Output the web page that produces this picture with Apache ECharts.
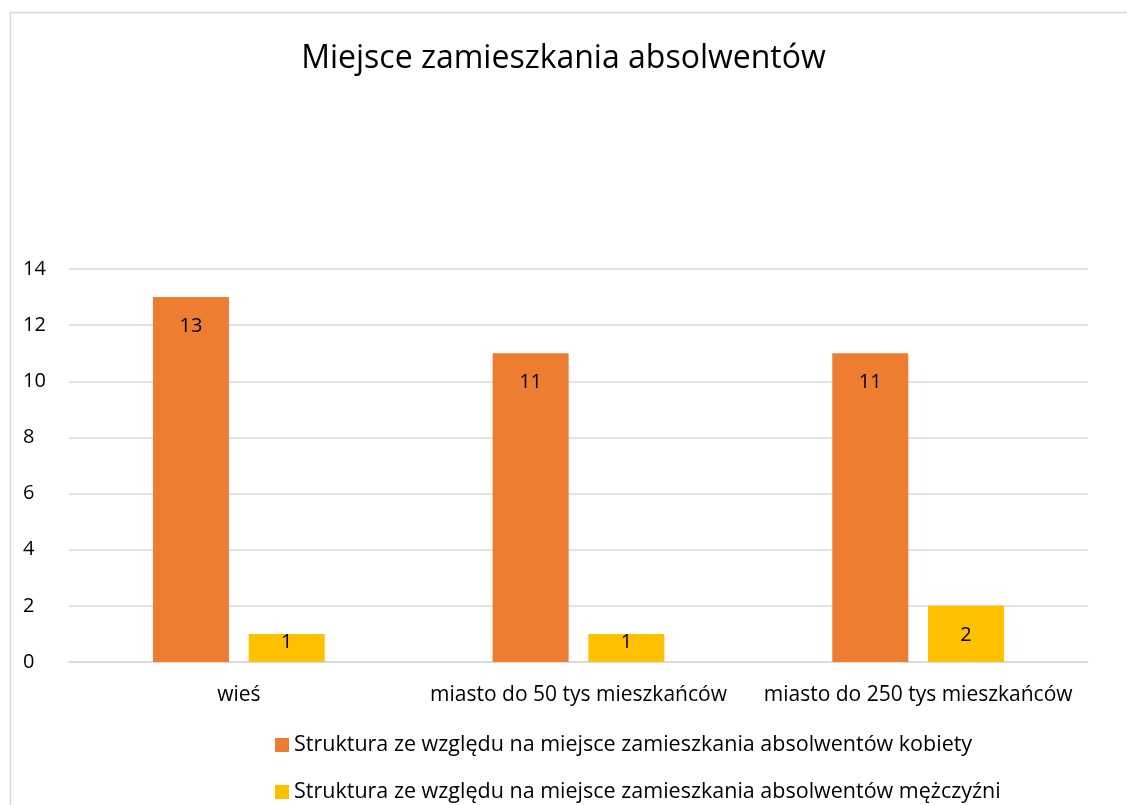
<!DOCTYPE html>
<html>
<head>
<meta charset="utf-8">
<script src="https://cdn.jsdelivr.net/npm/echarts@6/dist/echarts.min.js"></script>
<style>
html, body { margin: 0; padding: 0; background: #fff; }
#chart { width: 1127px; height: 805px; }
</style>
</head>
<body>
<div id="chart"></div>
<script>
// kategorie i wartości
const categories = ['wieś', 'miasto do 50 tys mieszkańców', 'miasto do 250 tys mieszkańców']
const kobiety = [13, 11, 11]
const mezczyzni = [1, 1, 2]
const seriesNames = [
    'Struktura ze względu na miejsce zamieszkania absolwentów kobiety',
    'Struktura ze względu na miejsce zamieszkania absolwentów mężczyźni'
]

const font = 'Open Sans, Noto Sans, sans-serif'
const legendBase = {
    orient: 'vertical',
    left: 270,
    itemWidth: 14,
    itemHeight: 14,
    itemGap: 6,
    icon: 'rect',
    textStyle: { fontSize: 21.5, color: '#000', fontFamily: font }
}
// niskie słupki: etykieta przy górnej krawędzi (jak w Excelu)
const barData = (arr) => arr.map(v => v < 2
    ? { value: v, label: { position: 'inside', offset: [0, -6] } }
    : v)
const barLabel = { show: true, position: 'insideTop', distance: 19, fontSize: 20, color: '#000', fontFamily: font }

let Mycharts = echarts.init(document.getElementById('chart'))
let option = {
    textStyle: { fontFamily: font },
    title: {
        text: 'Miejsce zamieszkania absolwentów',
        left: 'center',
        top: 38,
        textStyle: { fontSize: 32, fontWeight: 'normal', color: '#000', fontFamily: font }
    },
    graphic: [{
        type: 'rect',
        shape: { x: 10.5, y: 12.5, width: 1130, height: 800 },
        style: { fill: 'none', stroke: '#d9d9d9', lineWidth: 1.5 },
        silent: true
    }],
    grid: { left: 69, right: 39, top: 269, bottom: 143 },
    legend: [
        Object.assign({ top: 729, data: [seriesNames[0]] }, legendBase),
        Object.assign({ top: 776, data: [seriesNames[1]] }, legendBase)
    ],
    xAxis: {
        type: 'category',
        data: categories,
        axisTick: { show: false },
        axisLine: { lineStyle: { color: '#d9d9d9', width: 1.5 } },
        axisLabel: { fontSize: 21, color: '#000', margin: 23, interval: 0, fontFamily: font }
    },
    yAxis: {
        type: 'value',
        min: 0,
        max: 14,
        interval: 2,
        axisLabel: { fontSize: 20, color: '#000', margin: 46, align: 'left', fontFamily: font },
        splitLine: { lineStyle: { color: '#d9d9d9', width: 1.5 } },
        axisLine: { show: false },
        axisTick: { show: false }
    },
    series: [
        {
            name: seriesNames[0],
            type: 'bar',
            data: barData(kobiety),
            barWidth: 76,
            barGap: '26%',
            itemStyle: { color: '#ED7D31' },
            label: barLabel
        },
        {
            name: seriesNames[1],
            type: 'bar',
            data: barData(mezczyzni),
            barWidth: 76,
            barGap: '26%',
            itemStyle: { color: '#FFC000' },
            label: barLabel
        }
    ]
}
Mycharts.setOption(option)
</script>
</body>
</html>
